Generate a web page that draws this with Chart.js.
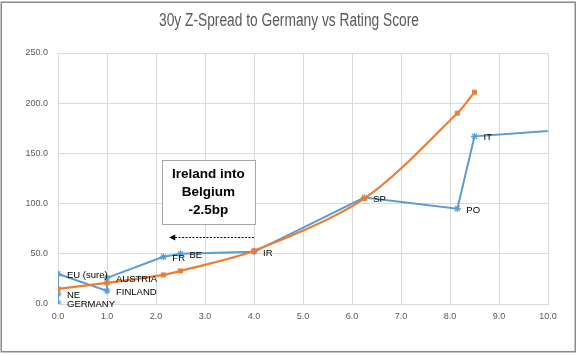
<!DOCTYPE html>
<html>
<head>
<meta charset="utf-8">
<script src="https://cdn.jsdelivr.net/npm/chart.js@4/dist/chart.umd.min.js"></script>
<style>
  html, body { margin: 0; padding: 0; background: #fff; }
  #wrap { width: 578px; height: 355px; position: relative; }
</style>
</head>
<body>
<div id="wrap"><canvas id="c" width="578" height="355"></canvas></div>
<script>
// ---- data ----
const spreadLabels = ["GERMANY", "NE", "EU (sure)", "FINLAND", "AUSTRIA", "FR", "BE", "IR", "SP", "PO", "IT", ""];
const spreadRating = [0, 0, 0, 1, 1, 2.15, 2.5, 4.0, 6.25, 8.15, 8.5, 11];
const spreadValues = [1, 10, 30, 13, 26, 47, 50, 52, 106, 95, 167, 176];

const fitRating = [0, 1, 2.15, 2.5, 4.0, 6.25, 8.15, 8.5];
const fitValues = [15, 21, 29, 33, 53, 105, 190, 211];

const xTicks = [0, 1, 2, 3, 4, 5, 6, 7, 8, 9, 10];
const yTicks = [0, 50, 100, 150, 200, 250];

const titleText = "30y Z-Spread to Germany vs Rating Score";
const noteLines = ["Ireland into", "Belgium", "-2.5bp"];

// ---- build ----
const blueData = spreadRating.map((x, i) => ({ x: x, y: spreadValues[i] }));
const orangeData = fitRating.map((x, i) => ({ x: x, y: fitValues[i] }));

const FONT = "'Liberation Sans', Arial, sans-serif";

const titlePlugin = {
  id: 'condensedTitle',
  afterDraw(chart) {
    const ctx = chart.ctx;
    ctx.save();
    ctx.font = "18px " + FONT;
    ctx.fillStyle = "#595959";
    ctx.textBaseline = "middle";
    ctx.textAlign = "center";
    const w = ctx.measureText(titleText).width;
    const target = 260;
    const sx = Math.min(1, target / w);
    ctx.translate(chart.width / 2, 21);
    ctx.scale(sx, 1);
    ctx.fillText(titleText, 0, 0);
    ctx.restore();
  }
};

const labelPlugin = {
  id: 'pointLabels',
  afterDatasetsDraw(chart) {
    const ctx = chart.ctx;
    const meta = chart.getDatasetMeta(1);
    ctx.save();
    ctx.font = "9.5px " + FONT;
    ctx.fillStyle = "#000";
    ctx.textBaseline = "middle";
    ctx.textAlign = "left";
    meta.data.forEach((pt, i) => {
      const t = spreadLabels[i];
      if (!t) return;
      ctx.fillText(t, pt.x + 9, pt.y + 1.5);
    });
    ctx.restore();
  }
};

const notePlugin = {
  id: 'note',
  afterDraw(chart) {
    const ctx = chart.ctx;
    const xs = chart.scales.x, ys = chart.scales.y;
    // text box
    const x0 = xs.getPixelForValue(2.12), x1 = xs.getPixelForValue(4.02);
    const y0 = ys.getPixelForValue(143), y1 = ys.getPixelForValue(79);
    ctx.save();
    ctx.fillStyle = "#fff";
    ctx.fillRect(x0, y0, x1 - x0, y1 - y0);
    ctx.strokeStyle = "#a6a6a6";
    ctx.lineWidth = 1;
    ctx.strokeRect(Math.round(x0) + 0.5, Math.round(y0) + 0.5, Math.round(x1 - x0), Math.round(y1 - y0));
    ctx.fillStyle = "#000";
    ctx.font = "bold 13.5px " + FONT;
    ctx.textAlign = "center";
    ctx.textBaseline = "middle";
    const cx = (x0 + x1) / 2, cy = (y0 + y1) / 2;
    noteLines.forEach((l, i) => ctx.fillText(l, cx, cy + (i - 1) * 18));
    // dashed arrow
    const ay = Math.round(ys.getPixelForValue(67)) + 0.5;
    const ax0 = xs.getPixelForValue(4.0), ax1 = xs.getPixelForValue(2.27);
    ctx.strokeStyle = "#000";
    ctx.lineWidth = 1;
    ctx.setLineDash([2, 1.5]);
    ctx.beginPath(); ctx.moveTo(ax0, ay); ctx.lineTo(ax1 + 4, ay); ctx.stroke();
    ctx.setLineDash([]);
    ctx.beginPath();
    ctx.moveTo(ax1, ay); ctx.lineTo(ax1 + 6, ay - 3); ctx.lineTo(ax1 + 6, ay + 3); ctx.closePath();
    ctx.fill();
    // outer frame
    ctx.strokeStyle = "#8a8a8a";
    ctx.lineWidth = 1.5;
    ctx.strokeRect(1.25, 2.25, 574, 349.5);
    ctx.restore();
  }
};

new Chart(document.getElementById('c'), {
  type: 'scatter',
  data: {
    datasets: [
      {
        label: 'Fit',
        data: orangeData,
        showLine: true,
        borderColor: '#ED7D31',
        backgroundColor: '#ED7D31',
        borderWidth: 2.25,
        tension: 0.3,
        pointStyle: 'rect',
        pointRadius: 3.5,
        pointBorderWidth: 0,
        order: 0
      },
      {
        label: '30y Z-Spread',
        data: blueData,
        showLine: true,
        borderColor: '#5B9BD5',
        backgroundColor: '#5B9BD5',
        borderWidth: 2,
        tension: 0,
        pointStyle: 'star',
        pointRadius: 3.5,
        pointBorderWidth: 1.2,
        order: 1
      }
    ]
  },
  options: {
    responsive: false,
    animation: false,
    devicePixelRatio: 1,
    layout: { padding: { left: 0, right: 30, top: 53, bottom: 0 } },
    plugins: {
      legend: { display: false },
      tooltip: { enabled: false },
      title: { display: false }
    },
    scales: {
      x: {
        type: 'linear',
        min: 0, max: 10,
        afterBuildTicks: (s) => { s.ticks = xTicks.map(v => ({ value: v })); },
        afterFit: (s) => { s.height = 51; },
        grid: { color: '#d9d9d9', lineWidth: 1, drawTicks: false },
        border: { color: '#d9d9d9' },
        ticks: {
          color: '#595959', padding: 7,
          font: { family: FONT, size: 9 },
          callback: (v) => Number(v).toFixed(1),
          maxRotation: 0
        }
      },
      y: {
        type: 'linear',
        min: 0, max: 250,
        afterBuildTicks: (s) => { s.ticks = yTicks.map(v => ({ value: v })); },
        afterFit: (s) => { s.width = 58; },
        grid: { color: '#d9d9d9', lineWidth: 1, drawTicks: false },
        border: { color: '#d9d9d9' },
        ticks: {
          color: '#595959', padding: 10,
          font: { family: FONT, size: 9 },
          callback: (v) => Number(v).toFixed(1)
        }
      }
    }
  },
  plugins: [labelPlugin, notePlugin, titlePlugin]
});
</script>
</body>
</html>
